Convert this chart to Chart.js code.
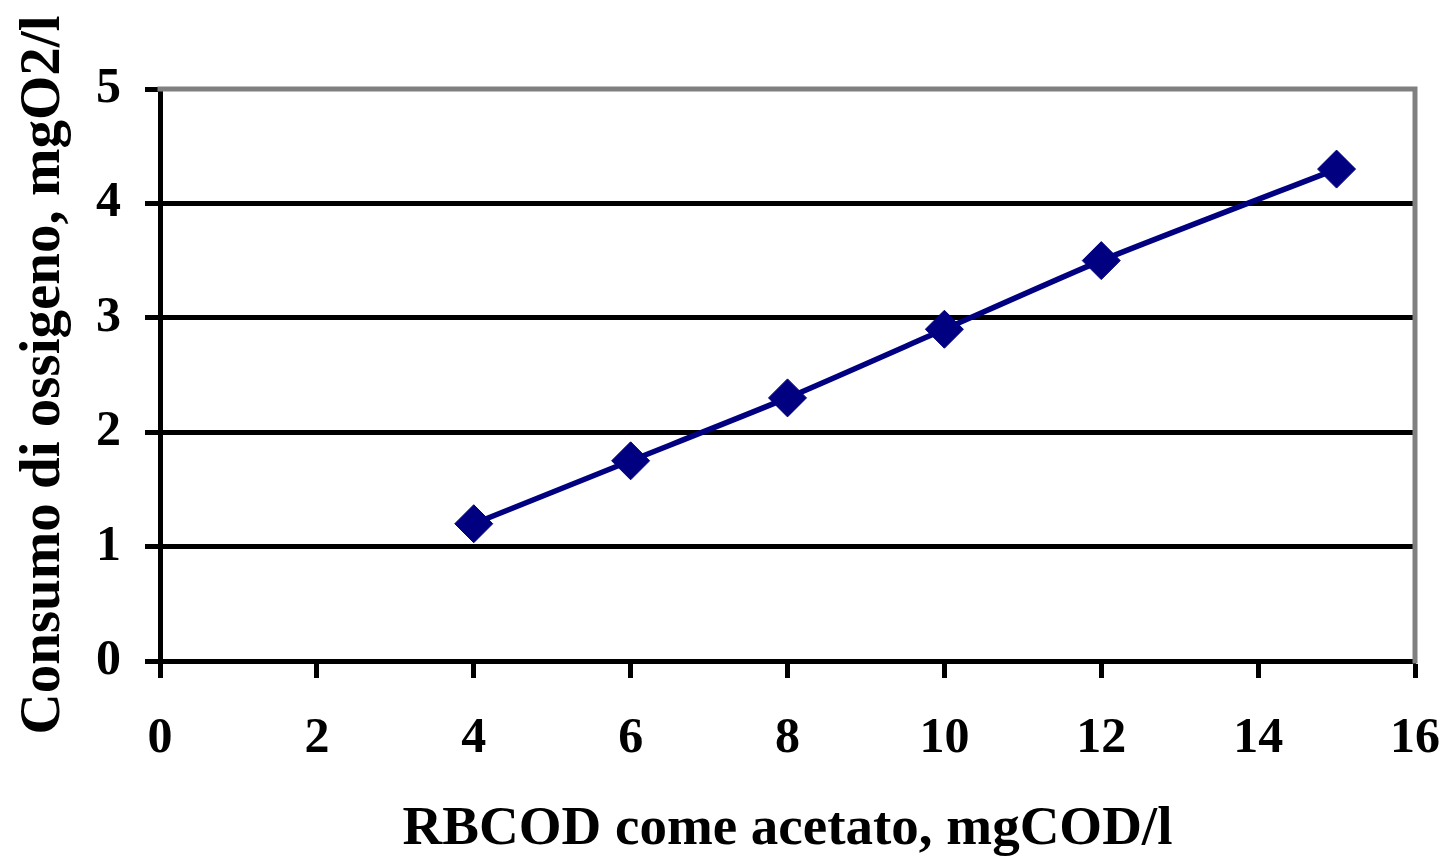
<!DOCTYPE html>
<html>
<head>
<meta charset="utf-8">
<script src="https://cdn.jsdelivr.net/npm/chart.js@4.4.1/dist/chart.umd.min.js"></script>
<style>
html,body{margin:0;padding:0;background:#fff;}
#wrap{width:1447px;height:863px;}
</style>
</head>
<body>
<div id="wrap"><canvas id="c" width="1447" height="863"></canvas></div>
<script>
const xValues = [4, 6, 8, 10, 12, 15];
const yValues = [1.2, 1.75, 2.3, 2.9, 3.5, 4.3];
const xTicks = [0, 2, 4, 6, 8, 10, 12, 14, 16];
const yTicks = [0, 1, 2, 3, 4, 5];
const xTitle = 'RBCOD come acetato, mgCOD/l';
const yTitle = 'Consumo di ossigeno, mgO2/l';

const FONT = "'Liberation Serif', 'Times New Roman', serif";

const borderPlugin = {
  id: 'grayBorder',
  beforeDatasetsDraw(chart) {
    const a = chart.chartArea, ctx = chart.ctx;
    ctx.save();
    ctx.strokeStyle = '#808080';
    ctx.lineWidth = 5;
    ctx.lineCap = 'square';
    ctx.beginPath();
    ctx.moveTo(a.left, a.top);
    ctx.lineTo(a.right, a.top);
    ctx.lineTo(a.right, a.bottom);
    ctx.stroke();
    ctx.restore();
  }
};

new Chart(document.getElementById('c'), {
  type: 'line',
  data: {
    datasets: [{
      data: xValues.map((x, i) => ({x: x, y: yValues[i]})),
      borderColor: '#000080',
      backgroundColor: '#000080',
      borderWidth: 5.5,
      pointStyle: 'rectRot',
      pointRadius: 19,
      pointHoverRadius: 19,
      pointBorderWidth: 1,
      pointBorderColor: '#000080',
      tension: 0.2,
      fill: false
    }]
  },
  options: {
    responsive: false,
    animation: false,
    events: [],
    plugins: { legend: {display: false}, tooltip: {enabled: false} },
    layout: { padding: { top: 89, right: 32, left: 0, bottom: 0 } },
    scales: {
      x: {
        type: 'linear',
        min: 0, max: 16,
        afterBuildTicks(s) { s.ticks = xTicks.map(v => ({value: v})); },
        afterFit(s) { s.height = 202; s.paddingLeft = 0; s.paddingRight = 0; },
        grid: {
          drawOnChartArea: false,
          drawTicks: true,
          tickLength: 17,
          tickWidth: 5,
          tickColor: '#000'
        },
        border: { display: true, color: '#000', width: 5 },
        ticks: {
          color: '#000',
          font: { family: FONT, size: 50, weight: 'bold' },
          padding: 31,
          maxRotation: 0,
          autoSkip: false
        },
        title: {
          display: true,
          text: xTitle,
          color: '#000',
          font: { family: FONT, size: 55, weight: 'bold' },
          padding: { top: 18, bottom: 0 }
        }
      },
      y: {
        type: 'linear',
        min: 0, max: 5,
        afterBuildTicks(s) { s.ticks = yTicks.map(v => ({value: v})); },
        afterFit(s) { s.width = 160; s.paddingTop = 0; s.paddingBottom = 0; },
        grid: {
          color: (c) => (c.tick && c.tick.value === 5) ? 'rgba(0,0,0,0)' : '#000',
          lineWidth: 5,
          drawTicks: true,
          tickLength: 15,
          tickWidth: 5,
          tickColor: '#000'
        },
        border: { display: true, color: '#000', width: 5 },
        ticks: {
          color: '#000',
          font: { family: FONT, size: 50, weight: 'bold' },
          padding: 24
        },
        title: {
          display: true,
          text: yTitle,
          color: '#000',
          font: { family: FONT, size: 57, weight: 'bold' },
          padding: { top: 10, bottom: 0 }
        }
      }
    }
  },
  plugins: [borderPlugin]
});
</script>
</body>
</html>
